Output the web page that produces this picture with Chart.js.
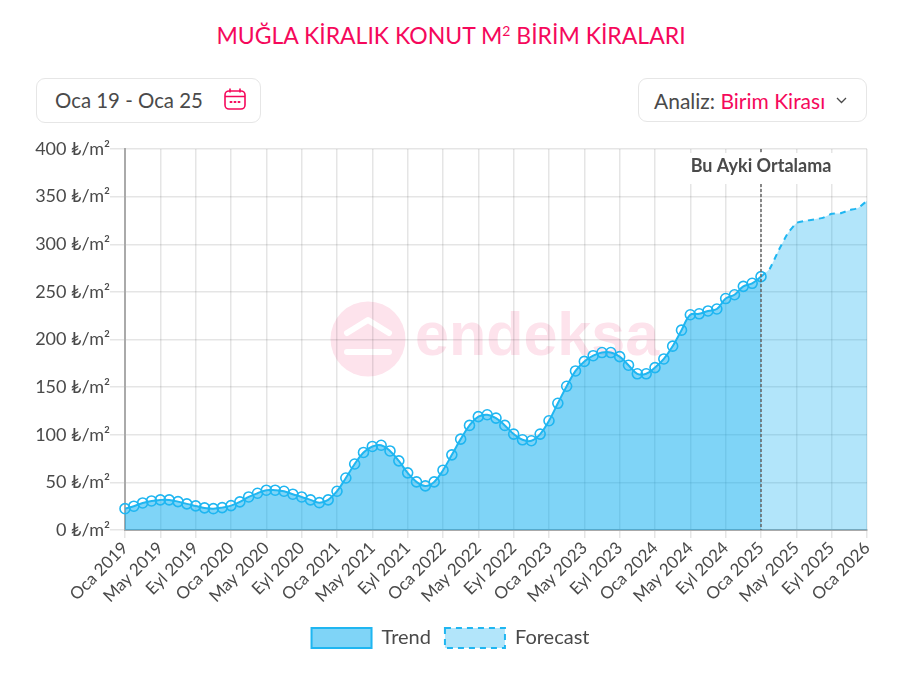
<!DOCTYPE html>
<html lang="tr">
<head>
<meta charset="utf-8">
<title>Muğla Kiralık Konut</title>
<script src="https://cdn.jsdelivr.net/npm/chart.js@4"></script>
<style>
  html, body { margin: 0; padding: 0; background: #fff; }
  body { width: 909px; height: 676px; position: relative; overflow: hidden; font-family: Lato, sans-serif; color: #4a4a4a; }
  h1 { position: absolute; left: 0; width: 902px; top: 20px; margin: 0; text-align: center; font-size: 23px; line-height: 30px; font-weight: 400; color: #f5085b; }
  h1 sup { font-size: 14px; line-height: 0; vertical-align: 8px; }
  .box { position: absolute; box-sizing: border-box; height: 45px; border: 1px solid #e6e6e6; border-radius: 9px; line-height: 43px; background: #fff; }
  #dates { left: 36px; top: 78px; width: 225px; padding-left: 18px; font-size: 20.4px; }
  #dates svg { position: absolute; left: 186px; top: 8px; }
  #analiz { left: 638px; top: 78px; width: 229px; height: 44px; padding-left: 15px; font-size: 21px; }
  #analiz b { font-weight: 400; color: #f5085b; }
  #analiz svg { position: absolute; left: 197px; top: 18px; }
  #mark { position: absolute; left: 330px; top: 301px; width: 340px; height: 78px; }
  #mark span { position: absolute; left: 85px; top: -1px; font: 700 61px/68px "Liberation Sans", sans-serif; color: #fde3ec; }
  #chart { position: absolute; left: 0; top: 130px; }
</style>
</head>
<body>
<h1>MUĞLA KİRALIK KONUT M<sup>2</sup> BİRİM KİRALARI</h1>
<div class="box" id="dates">Oca 19 - Oca 25
  <svg width="24" height="24" viewBox="0 0 24 24" fill="none" stroke="#f5085b" stroke-width="1.6">
    <rect x="2" y="4" width="20" height="18" rx="4"/><path d="M2 9.5h20M7 1.5v4M17 1.5v4"/>
    <path d="M7.5 15h1M11.5 15h1M15.5 15h1" stroke-linecap="round" stroke-width="2"/>
  </svg>
</div>
<div class="box" id="analiz">Analiz: <b>Birim Kirası</b>
  <svg width="11" height="7" viewBox="0 0 11 7" fill="none" stroke="#4a4a4a" stroke-width="1.3"><path d="M1 1l4.5 4.5L10 1"/></svg>
</div>
<div id="mark">
  <svg width="78" height="78" viewBox="0 0 78 78">
    <circle cx="38" cy="38" r="37.5" fill="#fde3ec"/>
    <path d="M17 32L38 19l21 13M17 51h42" fill="none" stroke="#fff" stroke-width="6" stroke-linecap="round" stroke-linejoin="round"/>
  </svg>
  <span>endeksa</span>
</div>
<canvas id="chart" width="909" height="546"></canvas>

<script>
"use strict";

const YEARS = [2019, 2020, 2021, 2022, 2023, 2024, 2025, 2026];
const MONTHS = ["Oca", "Şub", "Mar", "Nis", "May", "Haz", "Tem", "Ağu", "Eyl", "Eki", "Kas", "Ara"];
const trendValues = [
  22.4, 25, 28.4, 30.5, 31.6, 31.6, 29.8, 27.4, 25.3, 23.2, 22.4, 23.5,
  25.6, 29.5, 34.7, 38.6, 41.8, 41.8, 40.7, 37.6, 34.7, 31.6, 28.7, 31.6,
  40.7, 54.6, 69.3, 81.4, 87.7, 89, 83, 72.6, 60, 50.5, 46.3, 50.5,
  62.8, 78.9, 95.4, 109.8, 119, 121, 117.5, 109.8, 100.7, 94.7, 93.7, 100.7,
  114.7, 133, 150.9, 167, 177, 183, 186.3, 186.3, 182, 173, 164, 164,
  170.5, 179.6, 193, 209.8, 226, 227, 230, 232, 243, 247, 255.8, 259,
  266,
];
const forecastValues = [266, 274.4, 293.7, 311, 322.4, 324.6, 326, 327.7, 332, 332.6, 335.8, 338, 345.6];
const yTicks = { min: 0, max: 400, step: 50 };
const CURRENT_INDEX = trendValues.length - 1;

const labels = [];
YEARS.forEach((y) => MONTHS.forEach((m) => labels.push(m + " " + y)));
labels.length = trendValues.length + forecastValues.length - 1;

const TEXT = "#4a4a4a";
const FONT = "Lato, sans-serif";

const currentMonthLine = {
  id: "currentMonthLine",
  afterDatasetsDraw(chart) {
    const { ctx, chartArea: a, scales: { x } } = chart;
    const px = x.getPixelForValue(CURRENT_INDEX);
    ctx.save();
    ctx.strokeStyle = "#666";
    ctx.lineWidth = 1.5;
    ctx.setLineDash([3, 2]);
    ctx.beginPath();
    ctx.moveTo(px, a.top);
    ctx.lineTo(px, a.bottom);
    ctx.stroke();
    ctx.setLineDash([]);
    ctx.font = "700 18px " + FONT;
    ctx.textAlign = "center";
    ctx.textBaseline = "middle";
    const w = ctx.measureText("Bu Ayki Ortalama").width + 4;
    ctx.fillStyle = "#fff";
    ctx.fillRect(px - w / 2, a.top + 4, w, 31);
    ctx.fillStyle = TEXT;
    ctx.fillText("Bu Ayki Ortalama", px, a.top + 17);
    ctx.restore();
  },
};

new Chart(document.getElementById("chart"), {
  type: "line",
  data: {
    labels,
    datasets: [
      {
        label: "Trend",
        data: trendValues,
        borderColor: "#1fb6f1",
        backgroundColor: "rgba(0,170,240,0.5)",
        borderWidth: 2,
        fill: "origin",
        tension: 0.4,
        pointRadius: 5,
        pointBorderWidth: 1.6,
        pointBackgroundColor: "transparent",
        pointBorderColor: "#1fb6f1",
      },
      {
        label: "Forecast",
        data: labels.map((_, i) => (i < CURRENT_INDEX ? null : forecastValues[i - CURRENT_INDEX])),
        borderColor: "#1fb6f1",
        backgroundColor: "rgba(0,170,240,0.3)",
        borderWidth: 2,
        borderDash: [6, 5],
        fill: "origin",
        tension: 0.1,
        pointRadius: 0,
      },
    ],
  },
  options: {
    responsive: false,
    animation: false,
    layout: { padding: { top: 19, right: 42, left: 34, bottom: 18 } },
    plugins: {
      tooltip: { enabled: false },
      legend: {
        position: "bottom",
        labels: { boxWidth: 60, boxHeight: 20, padding: 14, color: TEXT, font: { family: FONT, size: 20 } },
      },
    },
    scales: {
      x: {
        offset: false,
        border: { color: "#aaa", width: 2 },
        grid: { color: "rgba(0,0,0,0.1)", lineWidth: 1.5, tickLength: 8 },
        afterFit(scale) { scale.height = 84; },
        ticks: {
          autoSkip: false,
          maxRotation: 45,
          minRotation: 45,
          color: TEXT,
          padding: 0,
          font: { family: FONT, size: 17 },
          callback(value, index) { return index % 4 === 0 ? labels[index] : null; },
        },
      },
      y: {
        min: yTicks.min,
        max: yTicks.max,
        border: { color: "#aaa", width: 2 },
        grid: { color: "rgba(0,0,0,0.1)", lineWidth: 1.5, tickLength: 15 },
        afterFit(scale) { scale.width = 91; },
        ticks: {
          stepSize: yTicks.step,
          color: TEXT,
          padding: 0,
          font: { family: FONT, size: 18 },
          callback: (v) => v + " ₺/m²",
        },
      },
    },
  },
  plugins: [currentMonthLine],
});
</script>
</body>
</html>
